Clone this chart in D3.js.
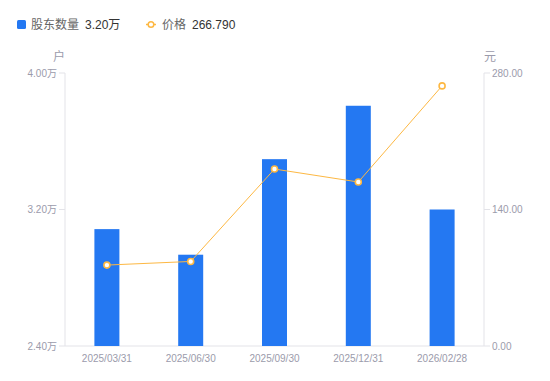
<!DOCTYPE html>
<html><head><meta charset="utf-8">
<script src="https://cdn.jsdelivr.net/npm/d3@7"></script>
<style>body{margin:0;background:#fff;font-family:"Noto Sans CJK SC","Noto Sans",sans-serif;}</style>
</head><body><svg id="c" width="550" height="381"></svg>
<script>
const categories = ["2025/03/31","2025/06/30","2025/09/30","2025/12/31","2026/02/28"];
const holders = [3.085, 2.935, 3.495, 3.808, 3.20];   // 万户
const prices = [83.0, 86.7, 181.5, 168.2, 266.79];    // 元
const leftTicks = [2.4, 3.2, 4.0];
const rightTicks = [0, 140, 280];

const svg = d3.select("#c");
const L = 65, R = 484, T = 73, B = 346;
const x = d3.scaleBand().domain(categories).range([L, R]);
const yL = d3.scaleLinear().domain([2.4, 4.0]).range([B, T]);
const yR = d3.scaleLinear().domain([0, 280]).range([B, T]);
const axisColor = "#e3e3e8", txtColor = "#9b9bab";
const numFont = "Liberation Sans, Arial, sans-serif";

svg.append("line").attr("x1", L).attr("x2", L).attr("y1", T).attr("y2", B).attr("stroke", axisColor);
svg.append("line").attr("x1", R).attr("x2", R).attr("y1", T).attr("y2", B).attr("stroke", axisColor);
svg.append("line").attr("x1", L).attr("x2", R).attr("y1", B).attr("y2", B).attr("stroke", axisColor);

leftTicks.forEach(v => {
  svg.append("line").attr("x1", L - 6).attr("x2", L).attr("y1", yL(v)).attr("y2", yL(v)).attr("stroke", axisColor);
  const t = svg.append("text").attr("x", L - 8).attr("y", yL(v)).attr("dy", "0.35em").attr("text-anchor", "end")
    .attr("font-size", 10).attr("fill", txtColor).attr("font-family", numFont);
  t.append("tspan").text(v.toFixed(2));
  t.append("tspan").attr("font-family", "Noto Sans CJK SC").text("万");
});
rightTicks.forEach(v => {
  svg.append("line").attr("x1", R).attr("x2", R + 6).attr("y1", yR(v)).attr("y2", yR(v)).attr("stroke", axisColor);
  svg.append("text").attr("x", R + 8).attr("y", yR(v)).attr("dy", "0.35em").attr("text-anchor", "start")
    .attr("font-size", 10).attr("fill", txtColor).attr("font-family", numFont).text(v.toFixed(2));
});
categories.forEach(c => {
  svg.append("text").attr("x", x(c) + x.bandwidth() / 2).attr("y", B + 15.5).attr("text-anchor", "middle")
    .attr("font-size", 10).attr("fill", txtColor).attr("font-family", numFont).text(c);
});
svg.append("text").attr("x", 59).attr("y", 61).attr("text-anchor", "middle").attr("font-size", 12).attr("fill", txtColor).text("户");
svg.append("text").attr("x", 490).attr("y", 61).attr("text-anchor", "middle").attr("font-size", 12).attr("fill", txtColor).text("元");

const bw = 25;
svg.selectAll("rect.bar").data(holders).enter().append("rect")
  .attr("x", (d, i) => x(categories[i]) + x.bandwidth() / 2 - bw / 2)
  .attr("y", d => yL(d)).attr("width", bw).attr("height", d => B - yL(d))
  .attr("fill", "#2478f2");

const line = d3.line().x((d, i) => x(categories[i]) + x.bandwidth() / 2).y(d => yR(d));
svg.append("path").datum(prices).attr("d", line).attr("fill", "none").attr("stroke", "#fdb843").attr("stroke-width", 1);
svg.selectAll("circle.pt").data(prices).enter().append("circle")
  .attr("cx", (d, i) => x(categories[i]) + x.bandwidth() / 2).attr("cy", d => yR(d)).attr("r", 3)
  .attr("fill", "#fff").attr("stroke", "#fdb843").attr("stroke-width", 1.6);

svg.append("rect").attr("x", 17).attr("y", 20).attr("width", 9).attr("height", 9).attr("rx", 1.5).attr("fill", "#2478f2");
svg.append("text").attr("x", 31).attr("y", 24.5).attr("dy", "0.35em").attr("font-size", 12).attr("fill", "#666").text("股东数量");
const lv = svg.append("text").attr("x", 85).attr("y", 24.5).attr("dy", "0.35em").attr("font-size", 12).attr("fill", "#333")
  .attr("font-family", numFont);
lv.append("tspan").text(holders[4].toFixed(2));
lv.append("tspan").attr("font-family", "Noto Sans CJK SC").text("万");
svg.append("line").attr("x1", 146).attr("x2", 156).attr("y1", 24.5).attr("y2", 24.5).attr("stroke", "#fdb843").attr("stroke-width", 1.5);
svg.append("circle").attr("cx", 151).attr("cy", 24.5).attr("r", 2.8).attr("fill", "#fff").attr("stroke", "#fdb843").attr("stroke-width", 1.5);
svg.append("text").attr("x", 162).attr("y", 24.5).attr("dy", "0.35em").attr("font-size", 12).attr("fill", "#666").text("价格");
svg.append("text").attr("x", 192).attr("y", 24.5).attr("dy", "0.35em").attr("font-size", 12).attr("fill", "#333")
  .attr("font-family", numFont).text(prices[4].toFixed(3));
</script></body></html>
